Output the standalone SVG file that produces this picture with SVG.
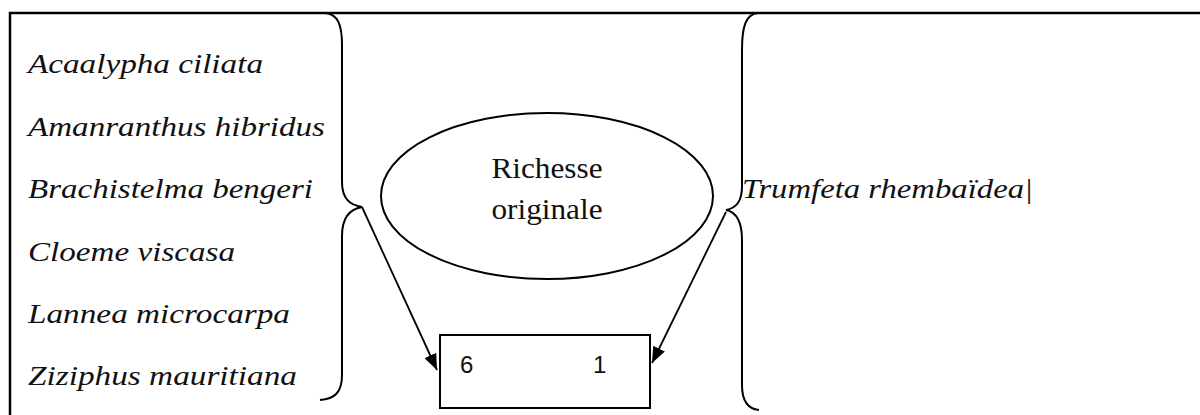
<svg xmlns="http://www.w3.org/2000/svg" width="1200" height="415" viewBox="0 0 1200 415">
  <style>
    .frame { fill: none; stroke: #000; stroke-width: 2.5; }
    .brace { fill: none; stroke: #000; stroke-width: 2; }
    .shape { fill: #fff; stroke: #000; stroke-width: 2; }
    .conn { fill: none; stroke: #000; stroke-width: 1.8; marker-end: url(#arrow); }
    .sp { font-family: "Liberation Serif", "Times New Roman", serif; font-style: italic; font-size: 28px; fill: #111; }
    .lbl { font-family: "Liberation Serif", "Times New Roman", serif; font-size: 30px; fill: #111; text-anchor: middle; }
    .num { font-family: "Liberation Sans", Arial, sans-serif; font-size: 24px; fill: #111; }
  </style>
  <defs>
    <marker id="arrow" viewBox="0 0 16 13" refX="16" refY="6.5" markerWidth="16" markerHeight="13" markerUnits="userSpaceOnUse" orient="auto">
      <path d="M0,0 L16,6.5 L0,13 z" fill="#000"/>
    </marker>
  </defs>

  <rect width="1200" height="415" fill="#fff"/>

  <!-- table frame (top and left rules) -->
  <path class="frame" d="M10,415 L10,13 L1200,13"/>

  <!-- species list, left column -->
  <g id="species-left">
    <text class="sp" x="28" y="73" textLength="235" lengthAdjust="spacingAndGlyphs">Acaalypha ciliata</text>
    <text class="sp" x="28" y="136" textLength="297" lengthAdjust="spacingAndGlyphs">Amanranthus hibridus</text>
    <text class="sp" x="28" y="198" textLength="285" lengthAdjust="spacingAndGlyphs">Brachistelma bengeri</text>
    <text class="sp" x="28" y="261" textLength="207" lengthAdjust="spacingAndGlyphs">Cloeme viscasa</text>
    <text class="sp" x="28" y="323" textLength="262" lengthAdjust="spacingAndGlyphs">Lannea microcarpa</text>
    <text class="sp" x="28" y="385" textLength="269" lengthAdjust="spacingAndGlyphs">Ziziphus mauritiana</text>
  </g>

  <!-- braces -->
  <g id="brace-left">
    <path class="brace" d="M325,13 C338,14 342,25 342,45 L342,182 C342,199 350,205 362,207 C350,209 342,217 342,236 L342,375 C342,392 335,399 320,400"/>
  </g>
  <g id="brace-right">
    <path class="brace" d="M758,13 C746,14 742,26 742,50 L742,186 C742,202 736,208 726,210 C736,212 742,220 742,240 L742,385 C742,402 748,409 759,410"/>
  </g>

  <!-- central ellipse -->
  <g id="richesse">
    <ellipse class="shape" cx="547" cy="196" rx="166" ry="83"/>
    <text class="lbl" x="547" y="178" textLength="111" lengthAdjust="spacingAndGlyphs">Richesse</text>
    <text class="lbl" x="547" y="219" textLength="111" lengthAdjust="spacingAndGlyphs">originale</text>
  </g>

  <!-- species, right column -->
  <g id="species-right">
    <text class="sp" x="742" y="198" textLength="291" lengthAdjust="spacingAndGlyphs">Trumfeta rhembaïdea|</text>
  </g>

  <!-- count box -->
  <g id="counts">
    <rect class="shape" x="440" y="335" width="210" height="73"/>
    <text class="num" x="460" y="373">6</text>
    <text class="num" x="593" y="373">1</text>
  </g>

  <!-- connectors -->
  <g id="connectors">
    <path class="conn" d="M362,207 L437,370"/>
    <path class="conn" d="M726,212 L652,363"/>
  </g>
</svg>
